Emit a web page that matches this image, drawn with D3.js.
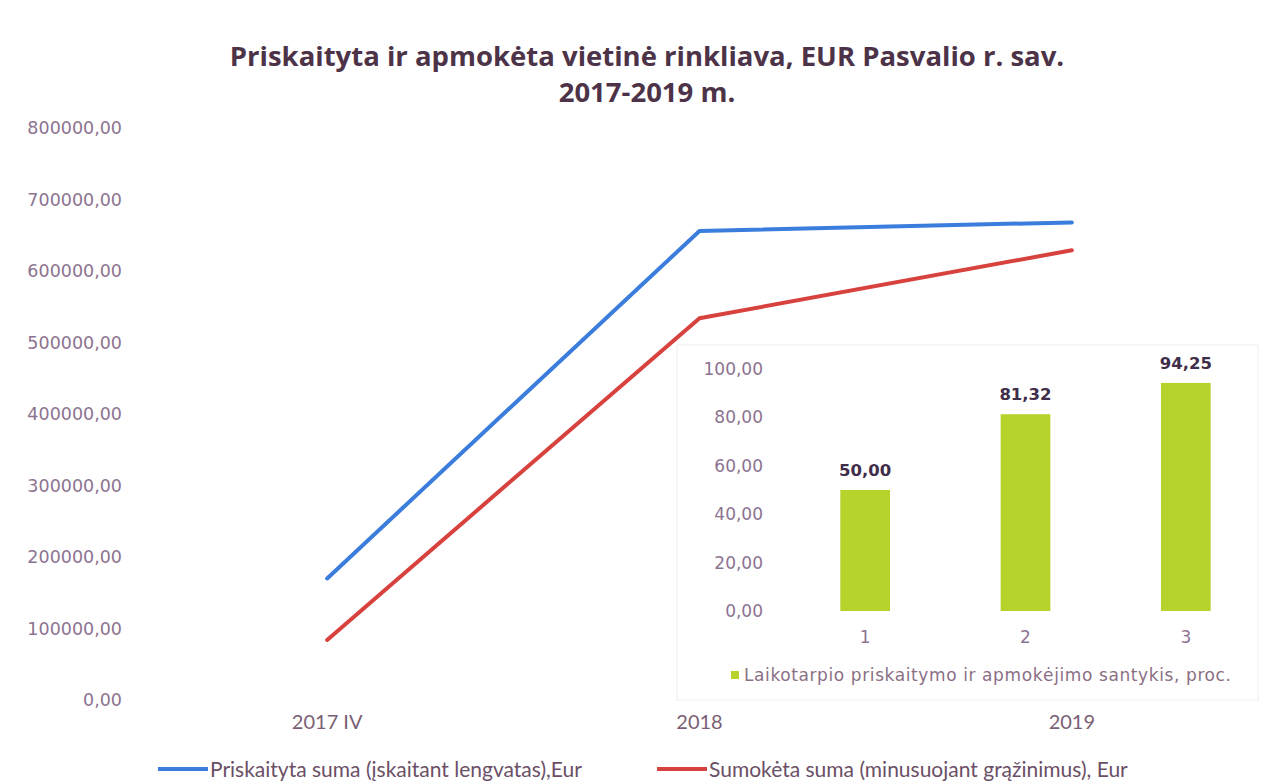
<!DOCTYPE html>
<html>
<head>
<meta charset="utf-8">
<script src="https://cdn.jsdelivr.net/npm/d3@7"></script>
<style>
  body { margin: 0; background: #fff; }
  svg { display: block; }
</style>
</head>
<body>
<div id="chart"></div>
<script>
// Main line chart data
const years = ['2017 IV', '2018', '2019'];
const assigned = [170000, 656000, 668000];   // Priskaityta suma
const paid = [84000, 534000, 629000];        // Sumokėta suma
const yTicks = [0, 100000, 200000, 300000, 400000, 500000, 600000, 700000, 800000];

// Inset bar chart data
const periods = ['1', '2', '3'];
const ratio = [50.00, 81.32, 94.25];
const insetTicks = [0, 20, 40, 60, 80, 100];

const seriesNames = [
  'Priskaityta suma (įskaitant lengvatas),Eur',
  'Sumokėta suma (minusuojant grąžinimus), Eur'
];
const insetLegend = 'Laikotarpio priskaitymo ir apmokėjimo santykis, proc.';

const W = 1275, H = 783;
const colors = { blue: '#3b7ddd', red: '#d8423e', green: '#b5d32b' };
const comma = v => d3.format('.2f')(v).replace('.', ',');

const svg = d3.select('#chart').append('svg')
  .attr('width', W)
  .attr('height', H);

// Title
const title = svg.append('text')
  .attr('text-anchor', 'middle')
  .attr('font-family', 'Open Sans')
  .attr('font-weight', 'bold')
  .attr('font-size', 27.5)
  .attr('fill', '#4d3348');
title.append('tspan').attr('x', 647).attr('y', 66)
  .text('Priskaityta ir apmokėta vietinė rinkliava, EUR Pasvalio r. sav.');
title.append('tspan').attr('x', 647).attr('y', 102)
  .text('2017-2019 m.');

// Main scales
const x = d3.scaleBand().domain(years).range([141, 1258]);
const y = d3.scaleLinear().domain([0, 800000]).range([700, 128]);
const cx = d => x(d) + x.bandwidth() / 2;

// Y axis labels
const yAxis = d3.axisLeft(y).tickValues(yTicks).tickFormat(comma).tickSize(0).tickPadding(0);
svg.append('g')
  .attr('transform', 'translate(122,0)')
  .call(yAxis)
  .call(g => g.select('.domain').remove())
  .call(g => g.selectAll('text')
    .attr('font-family', 'DejaVu Sans')
    .attr('font-size', 17.5)
    .attr('fill', '#8c7391'));

// X axis labels
const xAxis = d3.axisBottom(x).tickSize(0).tickPadding(0);
svg.append('g')
  .attr('transform', 'translate(0,715)')
  .call(xAxis)
  .call(g => g.select('.domain').remove())
  .call(g => g.selectAll('text')
    .attr('font-family', 'Lato')
    .attr('font-size', 20)
    .attr('fill', '#7a5f74'));

// Lines
const line = d3.line()
  .x((d, i) => cx(years[i]))
  .y(d => y(d));

svg.append('path')
  .datum(paid)
  .attr('d', line)
  .attr('fill', 'none')
  .attr('stroke', colors.red)
  .attr('stroke-width', 4)
  .attr('stroke-linecap', 'round')
  .attr('stroke-linejoin', 'round');

svg.append('path')
  .datum(assigned)
  .attr('d', line)
  .attr('fill', 'none')
  .attr('stroke', colors.blue)
  .attr('stroke-width', 4)
  .attr('stroke-linecap', 'round')
  .attr('stroke-linejoin', 'round');

// Bottom legend
const legend = svg.append('g')
  .attr('font-family', 'Lato')
  .attr('font-size', 21)
  .attr('fill', '#6b4f66');
[[158, colors.blue], [657, colors.red]].forEach(([lx, c], i) => {
  legend.append('line')
    .attr('x1', lx).attr('x2', lx + 50)
    .attr('y1', 769).attr('y2', 769)
    .attr('stroke', c).attr('stroke-width', 4);
  legend.append('text')
    .attr('x', lx + 52).attr('y', 777)
    .text(seriesNames[i]);
});

// Inset bar chart
const inset = svg.append('g');

inset.append('rect')
  .attr('x', 677).attr('y', 345)
  .attr('width', 581).attr('height', 355)
  .attr('fill', '#fff')
  .attr('stroke', '#f0eeee');

const bx = d3.scaleBand().domain(periods).range([785, 1266]);
const by = d3.scaleLinear().domain([0, 100]).range([611, 369]);
const barW = bx.bandwidth() * 0.31;
const bcx = d => bx(d) + bx.bandwidth() / 2;

const insetAxis = d3.axisLeft(by).tickValues(insetTicks).tickFormat(comma).tickSize(0).tickPadding(0);
inset.append('g')
  .attr('transform', 'translate(763,0)')
  .call(insetAxis)
  .call(g => g.select('.domain').remove())
  .call(g => g.selectAll('text')
    .attr('font-family', 'DejaVu Sans')
    .attr('font-size', 17)
    .attr('fill', '#8c7391'));

inset.selectAll('.bar')
  .data(ratio)
  .join('rect')
  .attr('class', 'bar')
  .attr('x', (d, i) => bcx(periods[i]) - barW / 2)
  .attr('y', d => by(d))
  .attr('width', barW)
  .attr('height', d => by(0) - by(d))
  .attr('fill', colors.green);

inset.selectAll('.val')
  .data(ratio)
  .join('text')
  .attr('class', 'val')
  .attr('x', (d, i) => bcx(periods[i]))
  .attr('y', d => by(d) - 14)
  .attr('text-anchor', 'middle')
  .attr('font-family', 'DejaVu Sans')
  .attr('font-weight', 'bold')
  .attr('font-size', 16.5)
  .attr('fill', '#3f2d4a')
  .text(d => comma(d));

inset.selectAll('.cat')
  .data(periods)
  .join('text')
  .attr('class', 'cat')
  .attr('x', d => bcx(d))
  .attr('y', 643)
  .attr('text-anchor', 'middle')
  .attr('font-family', 'DejaVu Sans')
  .attr('font-size', 17)
  .attr('fill', '#8c7391')
  .text(d => d);

inset.append('rect')
  .attr('x', 731).attr('y', 671)
  .attr('width', 8).attr('height', 8)
  .attr('fill', colors.green);
inset.append('text')
  .attr('x', 744).attr('y', 681)
  .attr('font-family', 'DejaVu Sans')
  .attr('font-size', 17)
  .attr('letter-spacing', 0.6)
  .attr('fill', '#8a6f85')
  .text(insetLegend);
</script>
</body>
</html>
